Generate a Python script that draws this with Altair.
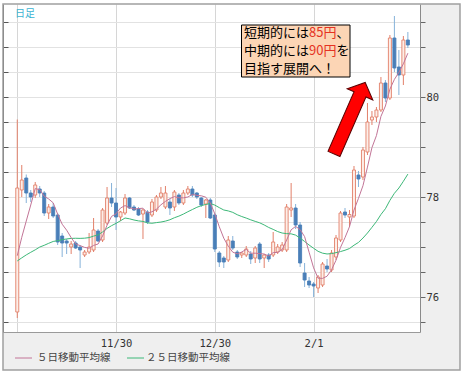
import altair as alt
import pandas as pd

# x-axis: trading-day index; labelled gridlines
tick_idx = [0, 22, 44, 66]
tick_labels = ["", "11/30", "12/30", "2/1"]
y_ticks = [75.5, 76, 76.5, 77, 77.5, 78, 78.5, 79, 79.5, 80, 80.5, 81, 81.5]
y_labelled = [76, 78, 80]

# closes before the first drawn day (feed the moving averages)
prior_closes = [76.8, 76.6, 76.7, 77.0, 76.7, 76.8, 76.8, 76.7, 76.7, 76.6, 76.7, 76.8,
                76.9, 77.0, 76.8, 76.7, 76.6, 76.5, 76.3, 76.2, 76.5, 76.45, 76.4, 76.6]

opens = [75.70, 78.14, 78.38, 78.08, 78.04, 78.16, 78.08, 77.68, 77.80, 77.64,
         77.22, 77.12, 77.00, 77.08, 77.00, 76.84, 76.90, 76.94, 77.32, 77.14,
         77.48, 77.98, 77.88, 77.60, 77.68, 77.98, 77.80, 77.76, 77.66, 77.70,
         77.64, 77.74, 78.00, 77.80, 77.90, 77.80, 78.04, 77.88, 78.08, 78.16,
         78.08, 77.98, 77.86, 77.94, 77.64, 76.88, 76.78, 76.74, 77.12, 76.90,
         76.84, 76.84, 76.86, 76.78, 77.06, 76.78, 76.84, 76.84, 76.90, 76.94,
         76.94, 77.74, 77.78, 77.44, 76.48, 76.32, 76.26, 76.18, 76.24, 76.62,
         76.54, 76.80, 77.14, 77.70, 77.60, 77.62, 78.44, 78.40, 78.90, 79.54,
         79.60, 79.74, 80.28, 79.98, 81.18, 80.60, 80.44, 81.14]
highs = [79.55, 78.64, 78.45, 78.14, 78.30, 78.22, 78.12, 77.86, 77.88, 77.68,
         77.28, 77.16, 77.12, 77.12, 77.04, 76.94, 77.28, 77.58, 77.36, 77.78,
         78.20, 78.28, 78.18, 77.72, 78.06, 78.00, 77.84, 77.80, 77.76, 77.74,
         77.96, 78.04, 78.20, 78.22, 77.96, 78.14, 78.08, 78.14, 78.22, 78.22,
         78.10, 78.00, 77.96, 77.98, 77.68, 76.92, 76.82, 77.22, 77.22, 76.94,
         76.90, 77.02, 76.92, 77.02, 77.10, 76.86, 76.88, 77.30, 77.06, 77.10,
         77.86, 78.28, 77.86, 77.50, 76.68, 76.40, 76.30, 76.44, 76.70, 76.76,
         76.94, 77.24, 77.72, 77.78, 77.74, 78.62, 78.52, 79.00, 79.88, 79.72,
         79.80, 80.40, 80.34, 81.24, 81.62, 80.94, 81.22, 81.30]
lows = [75.58, 78.00, 77.88, 77.90, 77.98, 78.00, 77.62, 77.56, 77.58, 77.04,
        76.80, 76.86, 76.86, 76.96, 76.58, 76.80, 76.86, 76.90, 77.10, 77.10,
        77.44, 77.80, 77.34, 77.52, 77.64, 77.76, 77.72, 77.62, 77.16, 77.46,
        77.60, 77.70, 77.96, 77.76, 77.64, 77.72, 77.84, 77.84, 78.04, 78.00,
        77.96, 77.80, 77.58, 77.56, 76.90, 76.60, 76.58, 76.70, 76.94, 76.76,
        76.78, 76.80, 76.66, 76.68, 76.68, 76.58, 76.70, 76.80, 76.86, 76.90,
        76.90, 77.60, 77.36, 76.60, 76.20, 76.18, 76.00, 76.08, 76.20, 76.50,
        76.50, 76.74, 77.10, 77.58, 77.40, 77.58, 78.20, 78.34, 78.84, 79.44,
        79.50, 79.70, 79.90, 79.94, 80.50, 80.04, 80.24, 80.98]
closes = [78.18, 78.34, 78.08, 78.00, 78.24, 78.08, 77.68, 77.80, 77.62, 77.10,
          77.08, 77.08, 77.06, 76.98, 76.94, 76.90, 77.00, 77.34, 77.12, 77.74,
          77.98, 77.88, 77.60, 77.70, 77.98, 77.78, 77.74, 77.64, 77.74, 77.50,
          77.90, 78.00, 78.08, 78.08, 77.78, 78.10, 77.88, 78.08, 78.16, 78.04,
          78.00, 77.84, 77.94, 77.58, 76.96, 76.70, 76.70, 77.14, 76.98, 76.80,
          76.88, 76.96, 76.76, 76.98, 76.76, 76.84, 76.76, 77.10, 77.00, 77.04,
          77.80, 77.78, 77.44, 76.68, 76.34, 76.24, 76.22, 76.40, 76.66, 76.56,
          76.88, 77.18, 77.68, 77.64, 77.65, 78.54, 78.36, 78.94, 79.50, 79.60,
          79.74, 80.28, 79.98, 81.18, 80.58, 80.44, 81.14, 81.04]

ma_names = ["５日移動平均線", "２５日移動平均線"]
note_lines = [["短期的には", "85円", "、"], ["中期的には", "90円", "を"], ["目指す展開へ！"]]

n = len(closes)
df = pd.DataFrame({"i": list(range(n)), "open": opens, "high": highs,
                   "low": lows, "close": closes})
df["dir"] = ["up" if c >= o else "down" for o, c in zip(opens, closes)]
allc = pd.Series(prior_closes + closes)
df["ma5"] = allc.rolling(5).mean().iloc[len(prior_closes):].to_numpy()
df["ma25"] = allc.rolling(25).mean().iloc[len(prior_closes):].to_numpy()

W, H = 417, 328
UP_LINE, UP_FILL = "#e2806a", "#fdeee8"
DN_FILL, DN_WICK = "#4a7fb8", "#86b2d9"
MA5_C, MA25_C = "#c27597", "#3db878"
JP = "Noto Sans CJK JP"
AXF = "DejaVu Sans Mono"

xs = alt.Scale(domain=[-2.065, 88.59], nice=False, zero=False)
ys = alt.Scale(domain=[75.3, 81.86], nice=False, zero=False)

lab_expr = " : ".join(f"datum.value == {v} ? '{t}'" for v, t in zip(tick_idx, tick_labels)) + " : ''"
x_axis = alt.Axis(values=tick_idx, labelExpr=lab_expr, grid=True, gridColor="#d6d6d6",
                  gridWidth=1, ticks=False, domainColor="#9a9a9a", labelPadding=6,
                  labelFont=AXF, labelFontSize=10.5, labelColor="#333", title=None,
                  labelAngle=0)
ylab_expr = " || ".join(f"datum.value == {v}" for v in y_labelled)
right_axis = alt.Axis(orient="right", values=y_ticks,
                      labelExpr=f"({ylab_expr}) ? format(datum.value, 'd') : ''",
                      grid=True, gridColor="#e2e2e2", tickSize=5, tickColor="#666",
                      domainColor="#8a8a8a", labelPadding=1, labelFont=AXF,
                      labelFontSize=10.5, labelColor="#333", title=None)
left_axis = alt.Axis(orient="right", offset=-W, values=y_ticks, labels=False,
                     grid=False, tickSize=5, tickColor="#555", domainColor="#555",
                     title=None)

one = pd.DataFrame({"a": [0]})

def box(x, x2, y, y2, **kw):
    return alt.Chart(one).mark_rect(**kw).encode(
        x=alt.value(x), x2=alt.value(x2), y=alt.value(y), y2=alt.value(y2))

# outer white strips and frame
strips = [
    box(-3, 0, -4, 373, fill="white"),
    box(-3, 465, -4, 0, fill="white"),
    box(457, 465, -4, 373, fill="white"),
    box(-3, 465, 366, 373, fill="white"),
    box(0, 457, 0, 366, fill="white", fillOpacity=0, stroke="#a0a0a0", strokeWidth=1.5),
]

base = alt.Chart(df)
wicks = base.mark_rule(strokeWidth=1).encode(
    x=alt.X("i:Q", scale=xs, axis=x_axis),
    y=alt.Y("low:Q", scale=ys, axis=right_axis),
    y2="high:Q",
    color=alt.Color("dir:N", scale=alt.Scale(domain=["up", "down"], range=[UP_LINE, DN_WICK]),
                    legend=None),
)
bodies = base.mark_bar(size=3.0, strokeWidth=0.9).encode(
    x=alt.X("i:Q", scale=xs, axis=None),
    y=alt.Y("open:Q", scale=ys, axis=left_axis),
    y2="close:Q",
    fill=alt.Fill("dir:N", scale=alt.Scale(domain=["up", "down"], range=[UP_FILL, DN_FILL]),
                  legend=None),
    stroke=alt.Stroke("dir:N", scale=alt.Scale(domain=["up", "down"], range=[UP_LINE, DN_FILL]),
                      legend=None),
)
ma25_line = base.mark_line(color=MA25_C, strokeWidth=1).encode(
    x=alt.X("i:Q", scale=xs, axis=None), y=alt.Y("ma25:Q", scale=ys, axis=None))
ma5_line = base.mark_line(color=MA5_C, strokeWidth=1).encode(
    x=alt.X("i:Q", scale=xs, axis=None), y=alt.Y("ma5:Q", scale=ys, axis=None))

def txt(s, x, y, color="#000", size=13, font=JP, align="left"):
    return alt.Chart(one).mark_text(align=align, baseline="middle", font=font,
                                    fontSize=size, color=color).encode(
        x=alt.value(x), y=alt.value(y), text=alt.value(s))

# annotation box
note = [box(238.5, 347, 21, 73, fill="#fcd5b5", stroke="#000", strokeWidth=1)]
ly = [29, 47, 65]
for (parts, yy) in zip(note_lines, ly):
    xx = 241
    for k, p in enumerate(parts):
        col = "#e53222" if k == 1 else "#000"
        note.append(txt(p, xx, yy, color=col))
        w = sum(7.2 if ch.isdigit() else 13 for ch in p)
        xx += w

arrow_path = ("M-0.1667,1 L0.1667,1 L0.1667,-0.6667 L0.359,-0.6667 L0,-1 "
              "L-0.359,-0.6667 L-0.1667,-0.6667 Z")
arrow = alt.Chart(one).mark_point(shape=arrow_path, size=6084, angle=23.6, filled=True,
                                  fill="#ff0000", stroke="#5a0000", strokeWidth=1,
                                  opacity=1).encode(x=alt.value(346.6), y=alt.value(114.2))

legend = [
    alt.Chart(one).mark_rule(color=MA5_C, strokeWidth=1).encode(
        x=alt.value(12), x2=alt.value(29), y=alt.value(354)),
    txt(ma_names[0], 34, 354, color="#444", size=10.5),
    alt.Chart(one).mark_rule(color=MA25_C, strokeWidth=1).encode(
        x=alt.value(124), x2=alt.value(141), y=alt.value(354)),
    txt(ma_names[1], 143, 354, color="#444", size=10.5),
    txt("日足", 12, 9.5, color="#3bb3d3", size=10),
]

chart = alt.layer(*strips, wicks, bodies, ma25_line, ma5_line, *note, arrow, *legend).resolve_axis(
    x="independent", y="independent"
).properties(
    width=W, height=H,
    autosize=alt.AutoSizeParams(type="none"),
    padding={"left": 3, "top": 4, "right": 45, "bottom": 45},
    background="#efefef",
).configure_view(fill="white", stroke=None)

chart.save("out.html", embed_options={"renderer": "svg", "actions": False})
